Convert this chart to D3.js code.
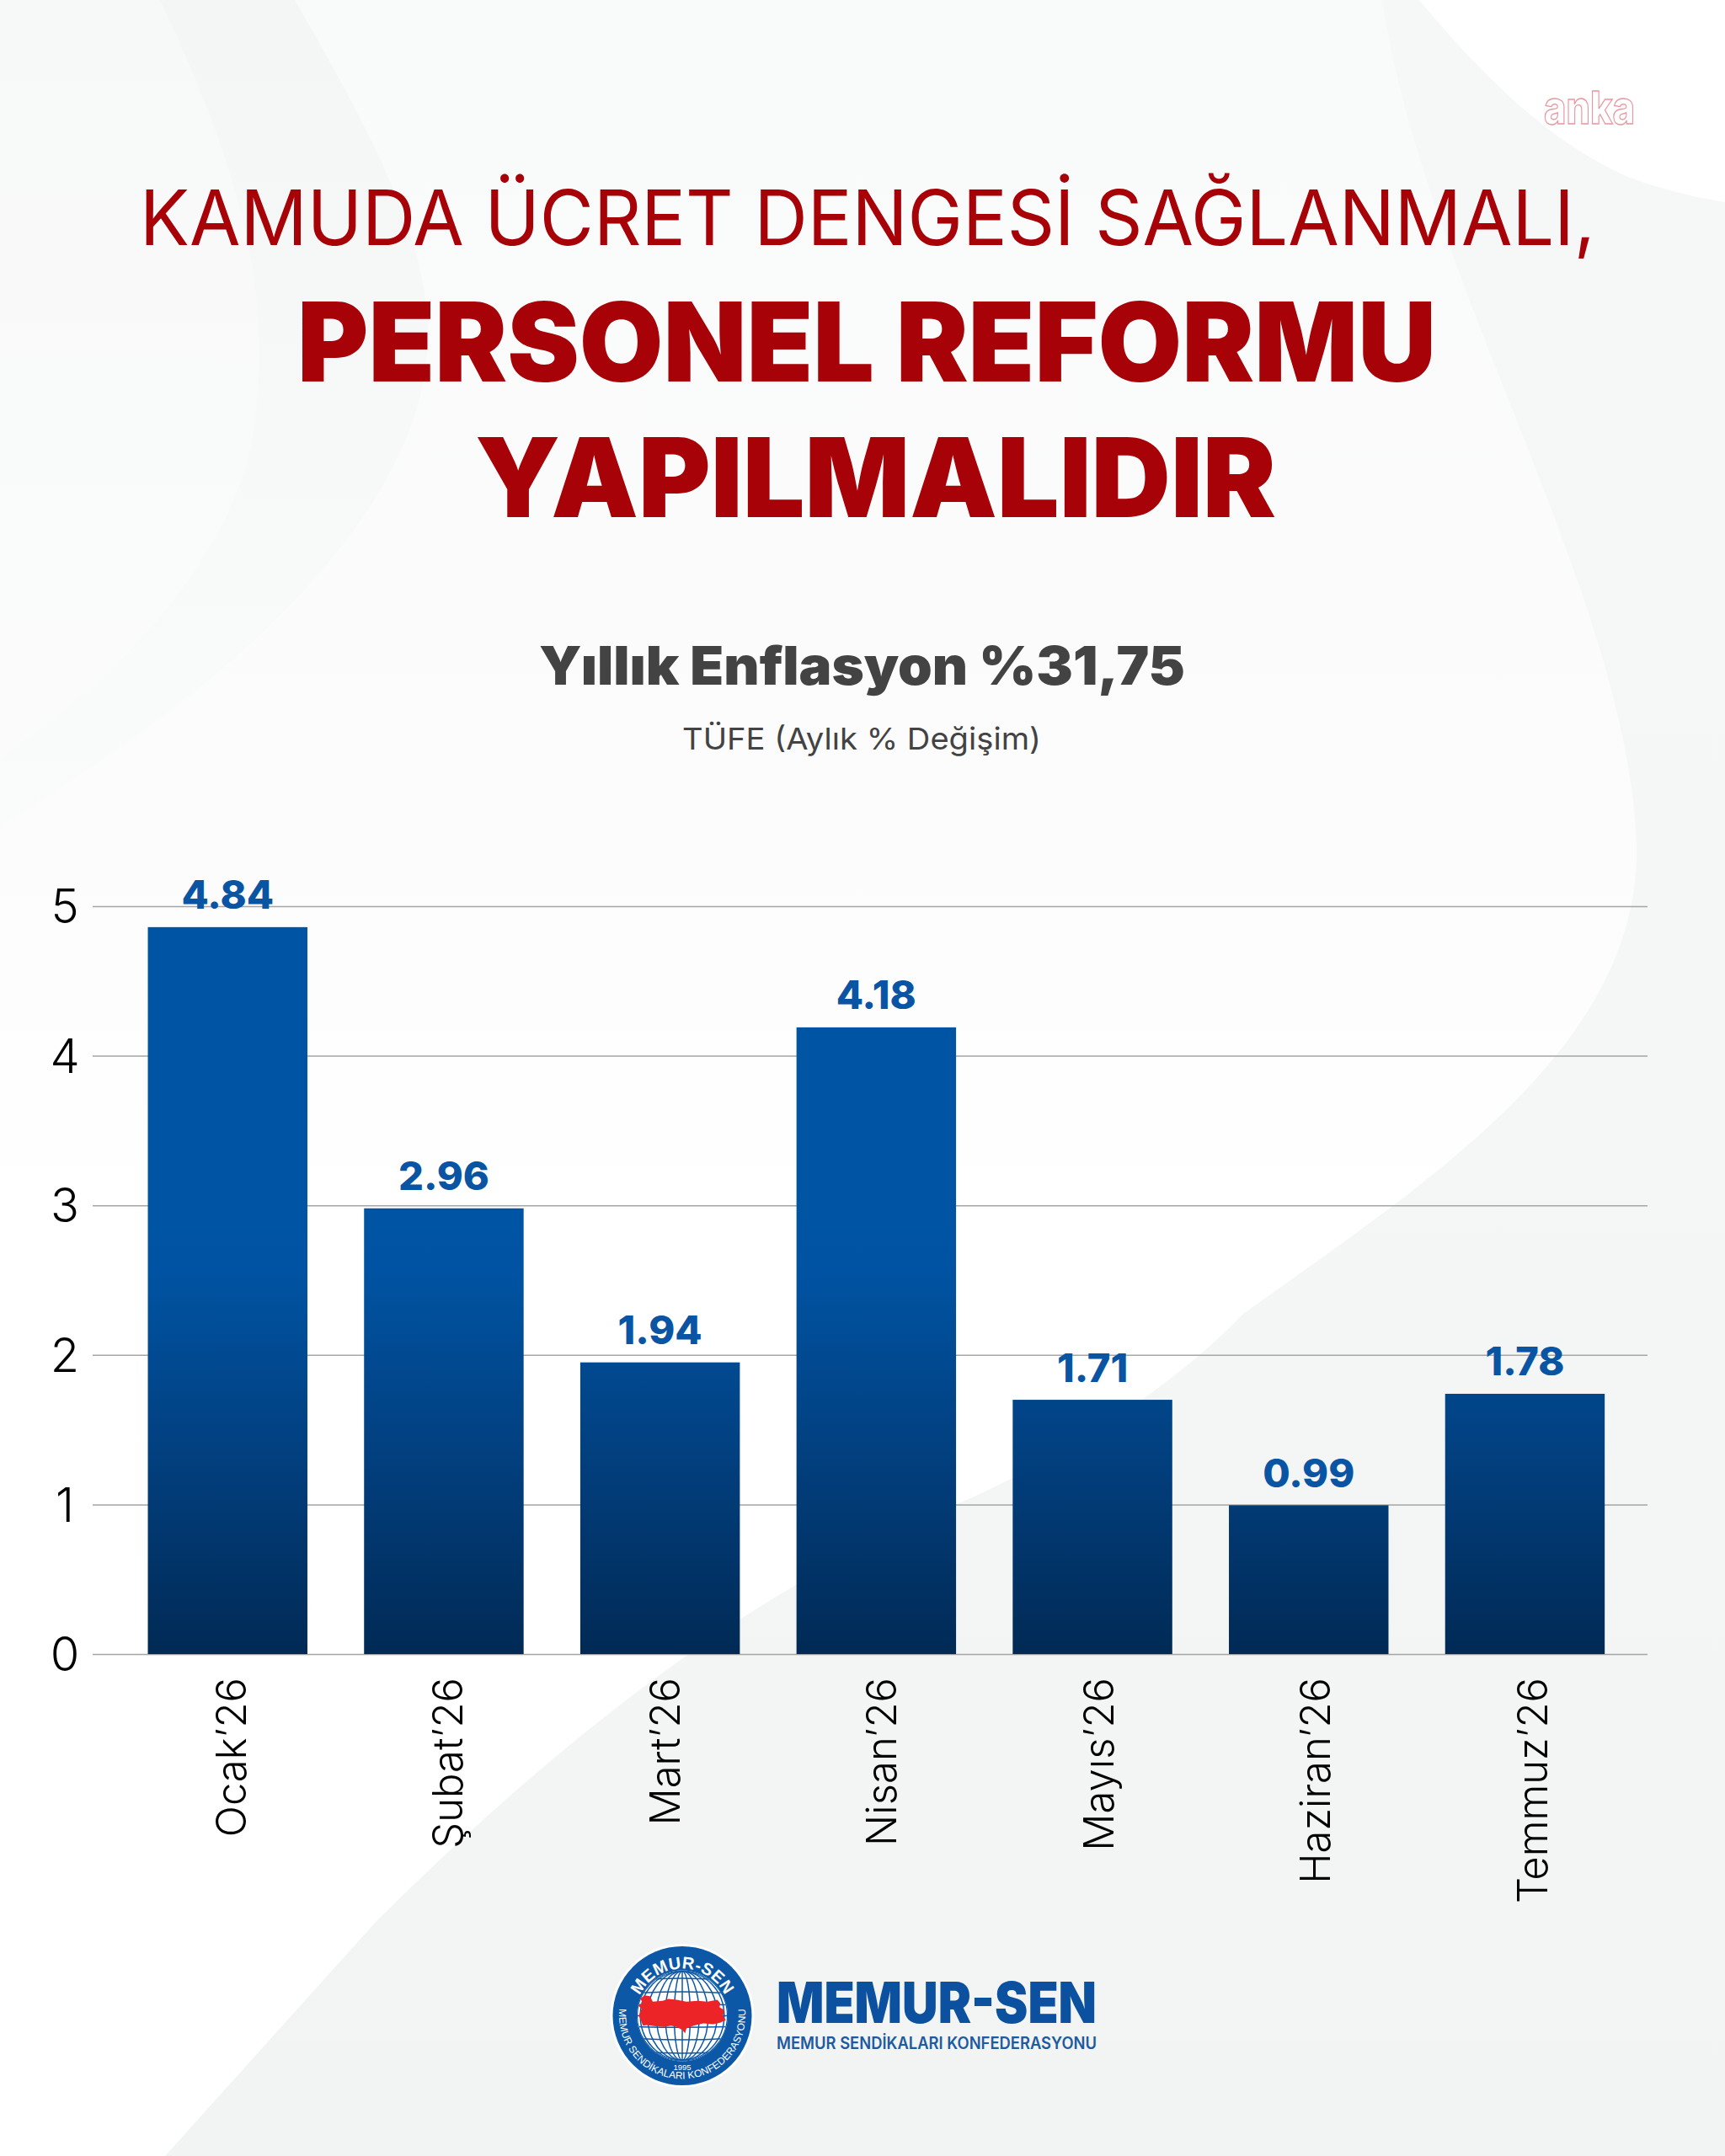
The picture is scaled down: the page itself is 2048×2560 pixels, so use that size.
<!DOCTYPE html>
<html lang="tr">
<head>
<meta charset="utf-8">
<script src="https://cdnjs.cloudflare.com/ajax/libs/d3/7.9.0/d3.min.js"></script>
<style>
html,body{margin:0;padding:0;background:#fff}
svg{display:block}
text{font-family:Inter,"Noto Sans",sans-serif}
</style>
</head>
<body>
<svg id="c" width="2048" height="2560" viewBox="0 0 2048 2560"></svg>
<script>
const categories = ["Ocak’26","Şubat’26","Mart’26","Nisan’26","Mayıs’26","Haziran’26","Temmuz’26"];
const barValues = [4.86,2.98,1.95,4.19,1.70,0.995,1.74];
const valueLabels = ["4.84","2.96","1.94","4.18","1.71","0.99","1.78"];
const yTicks = [0,1,2,3,4,5];

const svg = d3.select("#c");
const defs = svg.append("defs");

function vgrad(id, y1, y2, stops){
  const g = defs.append("linearGradient").attr("id",id).attr("gradientUnits","userSpaceOnUse")
    .attr("x1",0).attr("x2",0).attr("y1",y1).attr("y2",y2);
  stops.forEach(s=>g.append("stop").attr("offset",s[0]).attr("stop-color",s[1]));
}
vgrad("barFill",1450,1964,[[0,"#0054a4"],[0.12,"#0053a2"],[0.55,"#023f7e"],[1,"#012a55"]]);
vgrad("baseFill",0,2560,[[0,"#f6f7f7"],[0.5,"#f5f6f6"],[1,"#f2f3f3"]]);
vgrad("blobFill",0,1700,[[0,"#f9fafa"],[0.6,"#fcfcfc"],[0.85,"#ffffff"],[1,"#ffffff"]]);
vgrad("leftFill",0,1000,[[0,"#f4f5f5"],[1,"#fafbfb"]]);

/* background */
const bg = svg.append("g");
bg.append("rect").attr("width",2048).attr("height",2560).attr("fill","url(#baseFill)");
bg.append("rect").attr("width",700).attr("height",1100).attr("fill","url(#leftFill)");
bg.append("path").attr("fill","#ffffff").attr("opacity",0.3)
  .attr("d","M190,0 C270,170 330,330 300,520 C270,680 120,820 0,900 L0,0 Z");
bg.append("path").attr("fill","url(#blobFill)")
  .attr("d","M350,0 C430,140 510,280 508,400 C505,620 250,830 0,980 L0,2560 L196,2560 L448,2280 C600,2130 850,1900 1150,1780 C1260,1730 1390,1650 1476,1560 C1700,1400 1950,1240 1943,1000 C1930,700 1690,330 1641,0 Z");
bg.append("path").attr("fill","#ffffff")
  .attr("d","M1685,0 C1760,90 1840,170 1933,210 C1970,224 2010,234 2048,240 L2048,0 Z");

/* watermark */
svg.append("text").text("anka").attr("x",1833).attr("y",147)
  .attr("font-size",54).attr("font-weight",800)
  .attr("textLength",108).attr("lengthAdjust","spacingAndGlyphs")
  .attr("fill","#ffffff").attr("stroke","#e9949e").attr("stroke-width",1.3);

/* headings */
function head(t,x,w,y,size,weight,color){
  svg.append("text").text(t).attr("x",x).attr("y",y).attr("font-size",size).attr("font-weight",weight)
    .attr("fill",color).attr("textLength",w).attr("lengthAdjust","spacingAndGlyphs");
}
const red="#a60208", dark="#434343";
head("KAMUDA ÜCRET DENGESİ SAĞLANMALI,",166,1728,291,91,400,red);
head("PERSONEL REFORMU",353,1352,453,130,900,red);
head("YAPILMALIDIR",564,951,614,130,900,red);
head("Yıllık Enflasyon %31,75",640,767,813,63,900,dark);
head("TÜFE (Aylık % Değişim)",810,426,890,36,400,dark);

/* chart */
const x = d3.scaleBand().domain(categories).range([141.9,1938.8]).paddingInner(0.262).paddingOuter(0.131);
const xLabel = d3.scaleBand().domain(categories).range([143.5,1946]);
const y = d3.scaleLinear().domain([0,5]).range([1964,1076]);
const gridLeft=110, gridRight=1956;

const yAxis = svg.append("g").attr("transform",`translate(${gridLeft},0)`)
  .call(d3.axisLeft(y).tickValues(yTicks).tickFormat(d3.format("d")).tickSize(-(gridRight-gridLeft)).tickPadding(0));
yAxis.select(".domain").remove();
yAxis.selectAll(".tick line").attr("stroke","#a5a5a5").attr("stroke-width",1.5);
yAxis.selectAll(".tick text").attr("x",-33).attr("dy","0.35em").attr("text-anchor","middle")
  .attr("font-size",56).attr("font-weight",300).attr("fill","#000");

svg.append("g").selectAll("rect").data(categories).join("rect")
  .attr("x",d=>x(d)).attr("width",x.bandwidth())
  .attr("y",(d,i)=>y(barValues[i])).attr("height",(d,i)=>y(0)-y(barValues[i]))
  .attr("fill","url(#barFill)");

svg.append("g").selectAll("text").data(categories).join("text")
  .text((d,i)=>valueLabels[i])
  .attr("x",d=>x(d)+x.bandwidth()/2).attr("y",(d,i)=>y(barValues[i])-21.5)
  .attr("text-anchor","middle").attr("font-size",47).attr("font-weight",800).attr("fill","#0a55a3");

const xAxis = svg.append("g").attr("transform",`translate(0,${y(0)})`)
  .call(d3.axisBottom(xLabel).tickSize(0).tickPadding(0));
xAxis.select(".domain").remove();
xAxis.selectAll(".tick text")
  .attr("text-anchor","end").attr("dy",0).attr("y",0)
  .attr("transform","translate(19.5,28) rotate(-90)")
  .attr("font-size",49).attr("font-weight",300).attr("fill","#000");

/* logo */
const logo = svg.append("g").attr("transform","translate(810,2393.5)");
const blue="#0c58a6";
logo.append("circle").attr("r",85.5).attr("fill","#fff");
logo.append("circle").attr("r",82.5).attr("fill",blue);
logo.append("circle").attr("r",54).attr("fill","#fff");
defs.append("clipPath").attr("id","globeClip").append("circle").attr("r",53);
const globe = logo.append("g").attr("clip-path","url(#globeClip)").attr("fill","none").attr("stroke",blue).attr("stroke-width",1.5);
[0.18,0.38,0.58,0.78,0.94].forEach(k=>globe.append("ellipse").attr("rx",53*k).attr("ry",53));
globe.append("line").attr("y1",-53).attr("y2",53);
[-42,-27,-13,0,13,27,42].forEach(d=>globe.append("path").attr("d",`M-53,${d} Q0,${d+d*0.12} 53,${d}`));
logo.append("circle").attr("r",53.5).attr("fill","none").attr("stroke",blue).attr("stroke-width",1.2);
const turkey=[[135,225],[150,212],[170,215],[180,235],[215,232],[235,225],[265,228],[300,235],[340,232],[375,235],[410,228],[420,240],[418,255],[435,265],[430,285],[440,300],[420,310],[395,315],[360,312],[325,320],[300,330],[295,347],[285,335],[265,325],[245,320],[220,325],[185,322],[160,318],[145,320],[135,295],[130,285],[140,260],[128,248],[145,238]];
logo.append("path").attr("fill","#ec2327")
  .attr("d",d3.line().x(p=>(p[0]-285)/3).y(p=>(p[1]-285)/3)(turkey)+"Z");
const R1=56, R2=75;
const cs=Math.cos(25*Math.PI/180)*R2, sn=Math.sin(25*Math.PI/180)*R2;
defs.append("path").attr("id","arcTop").attr("d",`M${-R1},0 A${R1},${R1} 0 0 1 ${R1},0`);
defs.append("path").attr("id","arcBot").attr("d",`M${-cs},${-sn} A${R2},${R2} 0 1 0 ${cs},${-sn}`);
const logoFont="'Liberation Sans',Arial,sans-serif";
logo.append("text").attr("fill","#fff").attr("font-size",20).attr("font-weight",700)
  .attr("text-anchor","middle").style("font-family",logoFont).attr("letter-spacing",0.3)
  .append("textPath").attr("href","#arcTop").attr("startOffset","50%").text("MEMUR-SEN");
logo.append("text").attr("fill","#fff").attr("font-size",12).attr("font-weight",400)
  .attr("text-anchor","middle").style("font-family",logoFont).attr("letter-spacing",0.1)
  .append("textPath").attr("href","#arcBot").attr("startOffset","50%").text("MEMUR SENDİKALARI KONFEDERASYONU");
logo.append("text").text("1995").attr("y",64).attr("text-anchor","middle").attr("fill","#fff")
  .attr("font-size",9.5).style("font-family",logoFont);

head("MEMUR-SEN",922,380,2402,68,900,"#0c50a0");
head("MEMUR SENDİKALARI KONFEDERASYONU",922,380,2433,19.5,600,"#1c5b9f");
</script>
</body>
</html>
